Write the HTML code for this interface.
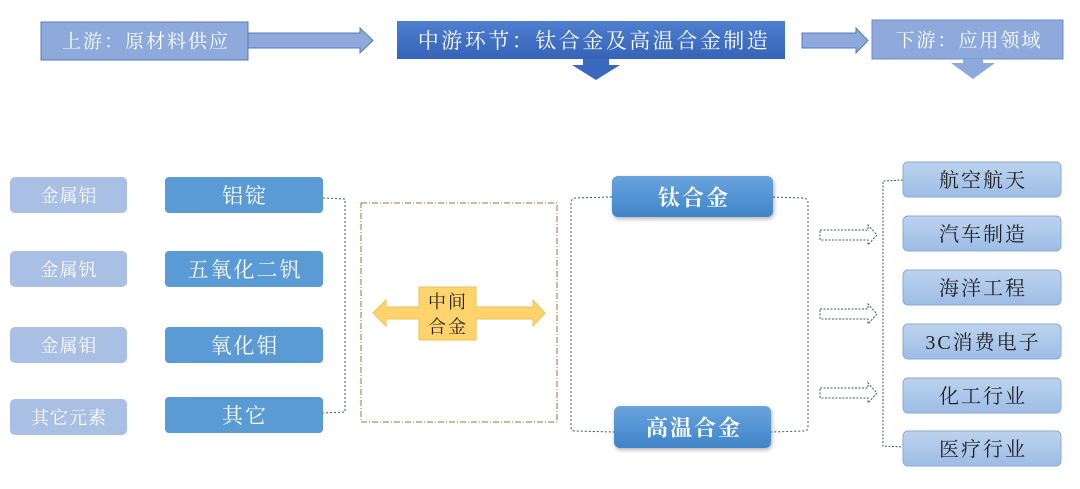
<!DOCTYPE html>
<html><head><meta charset="utf-8"><style>
html,body{margin:0;padding:0;background:#fff;width:1080px;height:489px;overflow:hidden}
text{font-family:"Liberation Serif","Noto Serif CJK SC",serif;dominant-baseline:central;text-anchor:middle}
</style></head><body>
<svg width="1080" height="489" viewBox="0 0 1080 489" xmlns="http://www.w3.org/2000/svg">
<defs>
<linearGradient id="dk" x1="0" y1="0" x2="0" y2="1"><stop offset="0" stop-color="#4f7fd0"/><stop offset="1" stop-color="#3563b8"/></linearGradient>
<linearGradient id="md" x1="0" y1="0" x2="0" y2="1"><stop offset="0" stop-color="#68a3dd"/><stop offset="1" stop-color="#3f85c9"/></linearGradient>
<linearGradient id="lt" x1="0" y1="0" x2="0" y2="1"><stop offset="0" stop-color="#bcd3ee"/><stop offset="1" stop-color="#9dbde6"/></linearGradient>
</defs>
<!-- top row -->
<rect x="41" y="22" width="207" height="38" fill="#8ea9dc" stroke="#5a78b8" stroke-width="1"/>
<text x="146" y="42" fill="#fff" font-size="19" letter-spacing="2">上游：原材料供应</text>
<polygon points="248,33 360,33 360,28 373,40.5 360,53 360,48 248,48" fill="#8ea9dc" stroke="#5a78b8"/>
<rect x="397" y="21" width="388" height="38" fill="url(#dk)"/>
<text x="594" y="41" fill="#fff" font-size="21" letter-spacing="2.5">中游环节：钛合金及高温合金制造</text>
<polygon points="583,59 609,59 609,65 620,65 596,80 572,65 583,65" fill="#3a68bd"/>
<polygon points="802,33 856,33 856,28 868,40.5 856,53 856,48 802,48" fill="#8ea9dc" stroke="#5a78b8"/>
<rect x="872" y="20" width="191" height="39" fill="#8ea9dc" stroke="#6f8cc8"/>
<text x="969" y="41" fill="#fff" font-size="19" letter-spacing="2">下游：应用领域</text>
<polygon points="963,59 983,59 983,63 995,63 973,79 951,63 963,63" fill="#8ea9dc"/>
<!-- left column -->
<g font-size="18" letter-spacing="1">
<rect x="10" y="177" width="117" height="36" rx="5" fill="#a9bfe3"/><text x="69" y="196" fill="#fff">金属铝</text>
<rect x="10" y="251" width="117" height="36" rx="5" fill="#a9bfe3"/><text x="69" y="270" fill="#fff">金属钒</text>
<rect x="10" y="327" width="117" height="36" rx="5" fill="#a9bfe3"/><text x="69" y="346" fill="#fff">金属钼</text>
<rect x="10" y="399" width="117" height="36" rx="5" fill="#a9bfe3"/><text x="69" y="418" fill="#fff">其它元素</text>
</g>
<g font-size="21" letter-spacing="2">
<rect x="165" y="177" width="158" height="36" rx="4" fill="#5b9bd5"/><text x="245" y="196" fill="#fff">铝锭</text>
<rect x="165" y="251" width="158" height="36" rx="4" fill="#5b9bd5"/><text x="245" y="270" fill="#fff">五氧化二钒</text>
<rect x="165" y="327" width="158" height="36" rx="4" fill="#5b9bd5"/><text x="245" y="346" fill="#fff">氧化钼</text>
<rect x="165" y="397" width="158" height="36" rx="4" fill="#5b9bd5"/><text x="245" y="416" fill="#fff">其它</text>
</g>
<path d="M323,198 L345,199 L345,412 L323,413" fill="none" stroke="#44546a" stroke-width="1" stroke-dasharray="2,2"/>
<!-- middle dash-dot box -->
<rect x="361" y="203" width="196" height="219" fill="none" stroke="#a0703a" stroke-width="1" stroke-dasharray="6,2,1,2"/>
<polygon points="373,313 386,300 386,307 419,307 419,287 476,287 476,307 533,307 533,300 545,313 533,326 533,319 476,319 476,340 419,340 419,319 386,319 386,326" fill="#ffd36b" stroke="#f2bf50"/>
<text x="448" y="302" font-size="18" fill="#222" letter-spacing="2">中间</text>
<text x="448" y="327" font-size="18" fill="#222" letter-spacing="2">合金</text>
<!-- alloy bracket -->
<path d="M612,197 L575,198 Q571,199 571,203 L571,427 Q571,431 575,431 L614,432 M773,197 L804,198 Q808,199 808,203 L808,427 Q808,431 804,431 L771,432" fill="none" stroke="#44546a" stroke-width="1" stroke-dasharray="2,2"/>
<rect x="612" y="176" width="161" height="41" rx="6" fill="url(#md)" filter="drop-shadow(1px 2px 2px rgba(0,0,0,0.3))"/>
<text x="694" y="198" font-size="22" font-weight="bold" fill="#fff" letter-spacing="2">钛合金</text>
<rect x="614" y="406" width="157" height="42" rx="6" fill="url(#md)" filter="drop-shadow(1px 2px 2px rgba(0,0,0,0.3))"/>
<text x="694" y="428" font-size="22" font-weight="bold" fill="#fff" letter-spacing="2">高温合金</text>
<!-- hollow arrows -->
<g fill="none" stroke="#44546a" stroke-width="1" stroke-dasharray="2,1.5">
<polygon points="820,230 868,230 868,225 877,235 868,245 868,240 820,240"/>
<polygon points="820,309 868,309 868,304 877,314 868,324 868,319 820,319"/>
<polygon points="820,388 868,388 868,383 877,393 868,403 868,398 820,398"/>
<path d="M903,180 L883,181 L883,446 L903,447"/>
</g>
<!-- right column -->
<g font-size="20" fill="#222" letter-spacing="2">
<rect x="903" y="162" width="158" height="35" rx="5" fill="url(#lt)" stroke="#8aaad8"/><text x="983" y="181">航空航天</text>
<rect x="903" y="216" width="158" height="35" rx="5" fill="url(#lt)" stroke="#8aaad8"/><text x="983" y="235">汽车制造</text>
<rect x="903" y="270" width="158" height="35" rx="5" fill="url(#lt)" stroke="#8aaad8"/><text x="983" y="289">海洋工程</text>
<rect x="903" y="324" width="158" height="35" rx="5" fill="url(#lt)" stroke="#8aaad8"/><text x="983" y="343" font-family="Liberation Sans,Noto Sans CJK SC,sans-serif">3C消费电子</text>
<rect x="903" y="378" width="158" height="35" rx="5" fill="url(#lt)" stroke="#8aaad8"/><text x="983" y="397">化工行业</text>
<rect x="903" y="431" width="158" height="35" rx="5" fill="url(#lt)" stroke="#8aaad8"/><text x="983" y="450">医疗行业</text>
</g>
</svg>
</body></html>
